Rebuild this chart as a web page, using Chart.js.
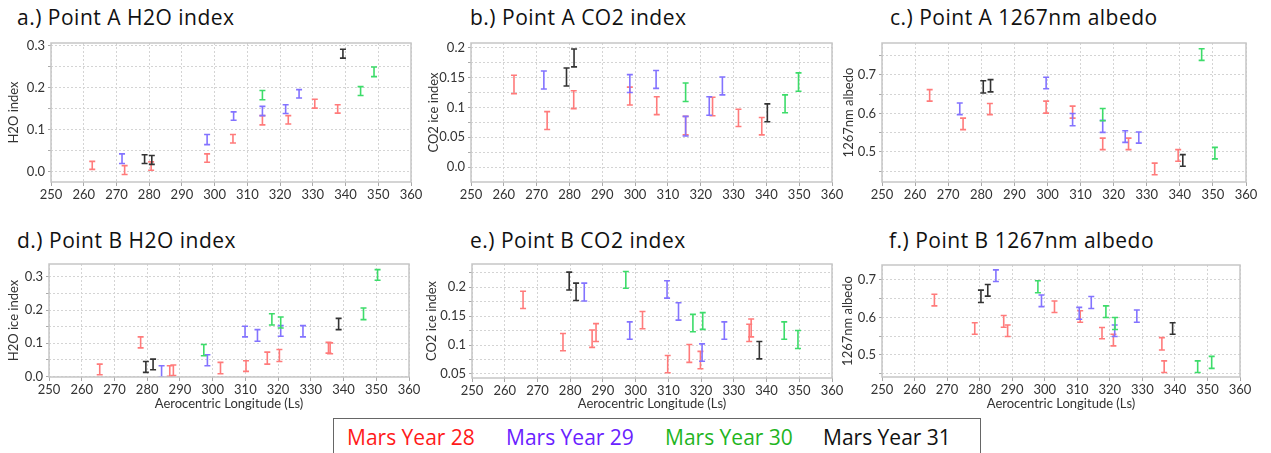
<!DOCTYPE html>
<html>
<head>
<meta charset="utf-8">
<script src="https://cdn.jsdelivr.net/npm/chart.js@4.4.0/dist/chart.umd.min.js"></script>
<style>
  body { margin: 0; background: #fff; width: 1271px; height: 453px; position: relative; overflow: hidden; font-family: Lato, sans-serif; }
  .panel { position: absolute; }
  .ttl { position: absolute; font-family: "Open Sans", sans-serif; font-size: 21px; line-height: 1; color: #111; white-space: nowrap; letter-spacing: 0.5px; }
  #legend { position: absolute; left: 333px; top: 418px; width: 646px; height: 44px; border: 1px solid #666; }
  #legend span { position: absolute; top: 8px; font-family: "Open Sans", sans-serif; font-size: 21px; line-height: 1; white-space: nowrap; }
</style>
</head>
<body>
<div id="legend"></div>
<script>
const xTicks = [250, 260, 270, 280, 290, 300, 310, 320, 330, 340, 350, 360];
const yearLabels = ['Mars Year 28', 'Mars Year 29', 'Mars Year 30', 'Mars Year 31'];

// each entry: [Ls, low, high]
// a.) Point A H2O index
const pA_h2o_28 = [[262.6, 0.006, 0.025], [272.5, -0.006, 0.015], [280.6, 0.004, 0.024], [297.7, 0.023, 0.043], [305.6, 0.069, 0.089], [314.6, 0.112, 0.134], [322.5, 0.114, 0.134], [330.6, 0.152, 0.173], [337.6, 0.140, 0.160]];
const pA_h2o_29 = [[271.7, 0.020, 0.043], [297.7, 0.065, 0.089], [305.8, 0.123, 0.143], [314.6, 0.134, 0.156], [321.7, 0.139, 0.160], [325.8, 0.176, 0.196]];
const pA_h2o_30 = [[314.6, 0.172, 0.194], [344.6, 0.182, 0.203], [348.7, 0.227, 0.250]];
const pA_h2o_31 = [[278.6, 0.020, 0.041], [280.8, 0.018, 0.039], [339.2, 0.271, 0.292]];

// b.) Point A CO2 index
const pA_co2_28 = [[263.1, 0.123, 0.154], [273.2, 0.063, 0.093], [281.3, 0.098, 0.128], [298.4, 0.104, 0.134], [306.6, 0.088, 0.118], [315.4, 0.054, 0.085], [323.6, 0.086, 0.117], [331.5, 0.068, 0.097], [338.6, 0.054, 0.083]];
const pA_co2_29 = [[272.2, 0.131, 0.161], [298.4, 0.125, 0.155], [306.4, 0.132, 0.162], [315.4, 0.052, 0.085], [322.6, 0.087, 0.118], [326.6, 0.121, 0.151]];
const pA_co2_30 = [[315.4, 0.110, 0.141], [345.7, 0.091, 0.121], [349.8, 0.127, 0.158]];
const pA_co2_31 = [[279.1, 0.136, 0.166], [281.4, 0.168, 0.198], [340.3, 0.076, 0.106]];

// c.) Point A 1267nm albedo
const pA_alb_28 = [[264.4, 0.632, 0.662], [274.5, 0.558, 0.588], [282.6, 0.597, 0.626], [299.6, 0.601, 0.632], [307.6, 0.588, 0.619], [316.7, 0.506, 0.536], [324.5, 0.506, 0.536], [332.4, 0.441, 0.471], [339.5, 0.476, 0.506]];
const pA_alb_29 = [[273.5, 0.597, 0.627], [299.6, 0.664, 0.694], [307.6, 0.568, 0.600], [316.7, 0.551, 0.582], [323.5, 0.525, 0.555], [327.6, 0.523, 0.552]];
const pA_alb_30 = [[316.7, 0.581, 0.613], [346.6, 0.738, 0.768], [350.6, 0.482, 0.512]];
const pA_alb_31 = [[280.6, 0.653, 0.685], [282.8, 0.656, 0.688], [340.9, 0.463, 0.493]];

// d.) Point B H2O index
const pB_h2o_28 = [[265.5, 0.005, 0.037], [278.0, 0.086, 0.119], [286.9, 0.000, 0.032], [288.0, 0.002, 0.034], [302.4, 0.008, 0.042], [310.2, 0.015, 0.047], [316.7, 0.037, 0.073], [320.4, 0.045, 0.081], [335.4, 0.070, 0.103], [335.9, 0.068, 0.101]];
const pB_h2o_29 = [[284.4, -0.002, 0.032], [298.4, 0.032, 0.065], [309.9, 0.119, 0.151], [313.7, 0.106, 0.141], [320.8, 0.121, 0.153], [327.6, 0.119, 0.153]];
const pB_h2o_30 = [[297.3, 0.062, 0.096], [318.1, 0.155, 0.189], [320.8, 0.146, 0.179], [346.1, 0.171, 0.206], [350.4, 0.290, 0.322]];
const pB_h2o_31 = [[279.6, 0.012, 0.045], [281.8, 0.020, 0.052], [338.5, 0.141, 0.175]];

// e.) Point B CO2 index
const pB_co2_28 = [[265.6, 0.163, 0.193], [277.8, 0.090, 0.120], [286.7, 0.096, 0.126], [287.9, 0.106, 0.137], [302.1, 0.128, 0.158], [309.8, 0.052, 0.082], [316.4, 0.070, 0.101], [319.8, 0.059, 0.089], [334.7, 0.106, 0.136], [335.3, 0.114, 0.145]];
const pB_co2_29 = [[284.3, 0.176, 0.207], [298.2, 0.110, 0.140], [309.6, 0.181, 0.211], [313.1, 0.143, 0.173], [320.3, 0.072, 0.102], [327.1, 0.110, 0.140]];
const pB_co2_30 = [[297.0, 0.198, 0.227], [317.5, 0.123, 0.153], [320.5, 0.127, 0.156], [345.4, 0.110, 0.140], [349.6, 0.094, 0.125]];
const pB_co2_31 = [[279.7, 0.195, 0.226], [281.8, 0.177, 0.207], [337.8, 0.076, 0.106]];

// f.) Point B 1267nm albedo
const pB_alb_28 = [[266.1, 0.631, 0.662], [278.5, 0.555, 0.586], [287.4, 0.574, 0.605], [288.6, 0.549, 0.580], [303.0, 0.613, 0.644], [310.9, 0.587, 0.618], [317.6, 0.543, 0.573], [321.1, 0.524, 0.555], [336.0, 0.513, 0.546], [336.7, 0.453, 0.484]];
const pB_alb_29 = [[285.0, 0.696, 0.727], [299.0, 0.629, 0.660], [310.6, 0.595, 0.627], [314.3, 0.624, 0.656], [321.5, 0.549, 0.580], [328.3, 0.587, 0.620]];
const pB_alb_30 = [[297.9, 0.666, 0.698], [318.8, 0.600, 0.631], [321.6, 0.568, 0.600], [347.0, 0.453, 0.484], [351.3, 0.464, 0.496]];
const pB_alb_31 = [[280.4, 0.640, 0.673], [282.5, 0.657, 0.688], [339.3, 0.555, 0.586]];

// y gridlines and their labels ('' = gridline only)
const yTicksH2O_A = [0, 0.05, 0.1, 0.15, 0.2, 0.25, 0.3];
const yTextH2O_A = ['0.0', '', '0.1', '', '0.2', '', '0.3'];
const yTicksCO2_A = [0, 0.025, 0.05, 0.075, 0.1, 0.125, 0.15, 0.175, 0.2];
const yTextCO2_A = ['0.0', '', '0.05', '', '0.1', '', '0.15', '', '0.2'];
const yTicksAlb_A = [0.45, 0.5, 0.55, 0.6, 0.65, 0.7, 0.75];
const yTextAlb_A = ['', '0.5', '', '0.6', '', '0.7', ''];
const yTicksH2O_B = [0, 0.05, 0.1, 0.15, 0.2, 0.25, 0.3];
const yTextH2O_B = ['0.0', '', '0.1', '', '0.2', '', '0.3'];
const yTicksCO2_B = [0.05, 0.075, 0.1, 0.125, 0.15, 0.175, 0.2, 0.225];
const yTextCO2_B = ['0.05', '', '0.1', '', '0.15', '', '0.2', ''];
const yTicksAlb_B = [0.45, 0.5, 0.55, 0.6, 0.65, 0.7];
const yTextAlb_B = ['', '0.5', '', '0.6', '', '0.7'];

const barColors = ['#ff7b7b', '#8373ff', '#3ddc6a', '#333333'];
const legendColors = ['#ff1a1a', '#6a22ff', '#1fb51f', '#111111'];

const panels = [
  { title: 'a.) Point A H2O index', yTitle: 'H2O index', sets: [pA_h2o_28, pA_h2o_29, pA_h2o_30, pA_h2o_31],
    ticks: yTicksH2O_A, text: yTextH2O_A, min: -0.024, max: 0.307,
    left: 0, plotLeft: 51, plotRight: 411, plotTop: 43, plotBottom: 182, axisH: 22, titleX: 17, titleTop: 7 },
  { title: 'b.) Point A CO2 index', yTitle: 'CO2 ice index', sets: [pA_co2_28, pA_co2_29, pA_co2_30, pA_co2_31],
    ticks: yTicksCO2_A, text: yTextCO2_A, min: -0.025, max: 0.208,
    left: 420, plotLeft: 471, plotRight: 832, plotTop: 43, plotBottom: 182, axisH: 22, titleX: 470, titleTop: 7 },
  { title: 'c.) Point A 1267nm albedo', yTitle: '1267nm albedo', sets: [pA_alb_28, pA_alb_29, pA_alb_30, pA_alb_31],
    ticks: yTicksAlb_A, text: yTextAlb_A, min: 0.422, max: 0.783,
    left: 835, plotLeft: 882, plotRight: 1246, plotTop: 43, plotBottom: 182, axisH: 22, titleX: 890, titleTop: 7 },
  { title: 'd.) Point B H2O index', yTitle: 'H2O ice index', sets: [pB_h2o_28, pB_h2o_29, pB_h2o_30, pB_h2o_31],
    ticks: yTicksH2O_B, text: yTextH2O_B, min: -0.002, max: 0.339, xTitle: 'Aerocentric Longitude (Ls)',
    left: 0, plotLeft: 49, plotRight: 409, plotTop: 264, plotBottom: 377, axisH: 36, titleX: 17, titleTop: 230 },
  { title: 'e.) Point B CO2 index', yTitle: 'CO2 ice index', sets: [pB_co2_28, pB_co2_29, pB_co2_30, pB_co2_31],
    ticks: yTicksCO2_B, text: yTextCO2_B, min: 0.043, max: 0.24, xTitle: 'Aerocentric Longitude (Ls)',
    left: 418, plotLeft: 472, plotRight: 832, plotTop: 264, plotBottom: 378, axisH: 35, titleX: 470, titleTop: 230 },
  { title: 'f.) Point B 1267nm albedo', yTitle: '1267nm albedo', sets: [pB_alb_28, pB_alb_29, pB_alb_30, pB_alb_31],
    ticks: yTicksAlb_B, text: yTextAlb_B, min: 0.441, max: 0.74, xTitle: 'Aerocentric Longitude (Ls)',
    left: 834, plotLeft: 882, plotRight: 1240, plotTop: 265, plotBottom: 377, axisH: 36, titleX: 889, titleTop: 230 }
];

// error bars: vertical line with caps, from low to high
const errorBars = {
  id: 'errorBars',
  afterDatasetsDraw(chart) {
    const { ctx, chartArea, scales: { x, y } } = chart;
    ctx.save();
    ctx.beginPath();
    ctx.rect(chartArea.left, chartArea.top, chartArea.right - chartArea.left, chartArea.bottom - chartArea.top);
    ctx.clip();
    ctx.lineWidth = 1.6;
    chart.data.datasets.forEach(ds => {
      ctx.strokeStyle = ds.borderColor;
      ds.data.forEach(p => {
        const px = x.getPixelForValue(p.x);
        const top = y.getPixelForValue(p.hi);
        const bot = y.getPixelForValue(p.lo);
        ctx.beginPath();
        ctx.moveTo(px, top); ctx.lineTo(px, bot);
        ctx.moveTo(px - 3, top); ctx.lineTo(px + 3, top);
        ctx.moveTo(px - 3, bot); ctx.lineTo(px + 3, bot);
        ctx.stroke();
      });
    });
    ctx.restore();
  }
};

// light box round the plot area
const frame = {
  id: 'frame',
  afterDraw(chart) {
    const { ctx, chartArea: a } = chart;
    ctx.save();
    ctx.strokeStyle = '#c6c6c6';
    ctx.lineWidth = 1.5;
    ctx.strokeRect(a.left, a.top, a.right - a.left, a.bottom - a.top);
    ctx.restore();
  }
};

Chart.defaults.font.family = 'Lato';
Chart.defaults.color = '#333';

const PAD_TOP = 10, PAD_RIGHT = 22;

panels.forEach(p => {
  const t = document.createElement('div');
  t.className = 'ttl';
  t.style.left = p.titleX + 'px';
  t.style.top = p.titleTop + 'px';
  t.textContent = p.title;
  document.body.appendChild(t);

  const box = document.createElement('div');
  box.className = 'panel';
  box.style.left = p.left + 'px';
  box.style.top = (p.plotTop - PAD_TOP) + 'px';
  box.style.width = (p.plotRight - p.left + PAD_RIGHT) + 'px';
  box.style.height = (p.plotBottom - p.plotTop + PAD_TOP + p.axisH) + 'px';
  const canvas = document.createElement('canvas');
  box.appendChild(canvas);
  document.body.appendChild(box);

  new Chart(canvas, {
    type: 'scatter',
    data: {
      datasets: p.sets.map((s, i) => ({
        label: yearLabels[i],
        data: s.map(d => ({ x: d[0], y: (d[1] + d[2]) / 2, lo: d[1], hi: d[2] })),
        borderColor: barColors[i],
        pointRadius: 0
      }))
    },
    options: {
      responsive: true,
      maintainAspectRatio: false,
      animation: false,
      layout: { padding: { top: PAD_TOP, right: PAD_RIGHT, left: 0, bottom: 0 } },
      plugins: { legend: { display: false }, tooltip: { enabled: false } },
      scales: {
        x: {
          type: 'linear',
          min: 250,
          max: 360,
          afterBuildTicks: sc => { sc.ticks = xTicks.map(v => ({ value: v })); },
          afterFit: sc => { sc.height = p.axisH; sc.paddingLeft = 0; sc.paddingRight = 0; },
          ticks: { autoSkip: false, maxRotation: 0, padding: 1, color: '#333', font: { size: 13 } },
          grid: { color: '#d4d4d4', tickColor: '#aaa', tickLength: 4, lineWidth: 1 },
          border: { display: false, dash: [2, 2] },
          title: { display: !!p.xTitle, text: p.xTitle || '', color: '#333', font: { size: 13 }, padding: { top: 2, bottom: 1 } }
        },
        y: {
          min: p.min,
          max: p.max,
          afterBuildTicks: sc => { sc.ticks = p.ticks.map(v => ({ value: v })); },
          afterFit: sc => { sc.width = p.plotLeft - p.left; sc.paddingTop = 0; sc.paddingBottom = 0; },
          ticks: { autoSkip: false, padding: 3, color: '#333', font: { size: 13 }, callback: (v, i) => p.text[i] },
          grid: { color: '#d4d4d4', tickColor: '#aaa', tickLength: 3, lineWidth: 1 },
          border: { display: false, dash: [2, 2] },
          title: { display: true, text: p.yTitle, color: '#333', font: { size: 13 }, padding: { top: 6, bottom: 2 } }
        }
      }
    },
    plugins: [errorBars, frame]
  });
});

const legend = document.getElementById('legend');
const legendX = [13, 172, 331, 489];
yearLabels.forEach((lbl, i) => {
  const s = document.createElement('span');
  s.style.left = legendX[i] + 'px';
  s.style.color = legendColors[i];
  s.textContent = lbl;
  legend.appendChild(s);
});
</script>
</body>
</html>
